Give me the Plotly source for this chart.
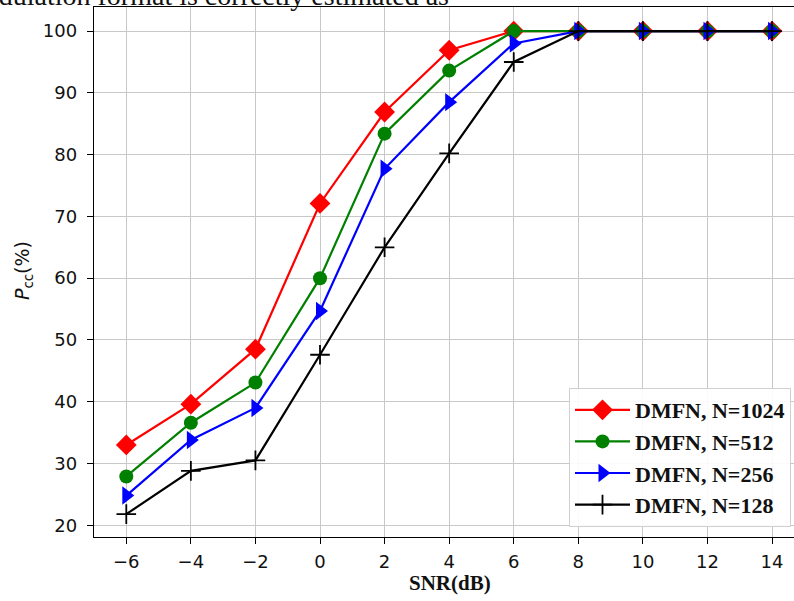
import plotly.graph_objects as go

snr = [-6, -4, -2, 0, 2, 4, 6, 8, 10, 12, 14]
p_1024 = [33.0, 39.6, 48.5, 72.1, 86.9, 96.9, 100, 100, 100, 100, 100]
p_512 = [27.9, 36.6, 43.1, 60.0, 83.4, 93.6, 100, 100, 100, 100, 100]
p_256 = [24.8, 33.8, 39.0, 54.7, 77.7, 88.5, 98.0, 100, 100, 100, 100]
p_128 = [21.8, 28.8, 30.5, 47.6, 65.0, 80.2, 95.0, 100, 100, 100, 100]
names = ["DMFN, N=1024", "DMFN, N=512", "DMFN, N=256", "DMFN, N=128"]
x_ticks = [-6, -4, -2, 0, 2, 4, 6, 8, 10, 12, 14]
y_ticks = [20, 30, 40, 50, 60, 70, 80, 90, 100]

L, T, W, H = 94, 7, 700, 530  # plot area in pixels

tick_font = dict(family="DejaVu Sans, sans-serif", size=18, color="#111")
serif = "Liberation Serif, Times New Roman, serif"

fig = go.Figure()
styles = [
    (p_1024, "red", dict(symbol="diamond", size=16, color="red")),
    (p_512, "green", dict(symbol="circle", size=14, color="green")),
    (p_256, "blue", dict(symbol="triangle-right", size=16, color="blue")),
    (p_128, "black", dict(symbol="cross-thin-open", size=14, color="black", line=dict(width=1.8, color="black"))),
]
for (vals, col, mk), nm in zip(styles, names):
    fig.add_trace(go.Scatter(x=snr, y=vals, mode="lines+markers", name="<b>" + nm + "</b>",
                             line=dict(color=col, width=2.2), marker=mk))

fig.update_layout(
    width=794, height=601,
    margin=dict(l=L, r=794 - L - W, t=T, b=601 - T - H),
    plot_bgcolor="white", paper_bgcolor="white",
    showlegend=True,
    legend=dict(x=(791 - L) / W, y=(T + H - 527) / H, xanchor="right", yanchor="bottom",
                font=dict(family=serif, size=22, color="#111"),
                bordercolor="#d0d0d0", borderwidth=1, bgcolor="rgba(255,255,255,0.9)",
                tracegroupgap=2, itemwidth=55),
    xaxis=dict(range=[-7, 14.68], tickvals=x_ticks,
               ticktext=[("\u2212" + str(-v)) if v < 0 else str(v) for v in x_ticks],
               showgrid=True, gridcolor="#c8c8c8", gridwidth=1,
               showline=True, linecolor="black", linewidth=1.4, mirror=True,
               ticks="outside", ticklen=6, tickwidth=1.4, tickcolor="black", tickfont=tick_font,
               ticklabelstandoff=2, zeroline=False),
    yaxis=dict(range=[18.1, 103.9], tickvals=y_ticks,
               showgrid=True, gridcolor="#c8c8c8", gridwidth=1,
               showline=True, linecolor="black", linewidth=1.4, mirror=True,
               ticks="outside", ticklen=6, tickwidth=1.4, tickcolor="black", tickfont=tick_font,
               ticklabelstandoff=6, zeroline=False),
)

# axis titles
fig.add_annotation(text="<b>SNR(dB)</b>", xref="paper", yref="paper",
                   x=(450 - L) / W, y=(T + H - 583) / H, xanchor="center", yanchor="middle",
                   showarrow=False, font=dict(family=serif, size=21, color="#111"))
fig.add_annotation(text="<i>P</i><sub>cc</sub>(%)", xref="paper", yref="paper",
                   x=(23 - L) / W, y=(T + H - 271) / H, xanchor="center", yanchor="middle",
                   textangle=-90, showarrow=False,
                   font=dict(family="DejaVu Sans, sans-serif", size=19, color="#111"))

# cropped caption text from the source page
fig.add_annotation(text="modulation format is correctly estimated as",
                   xref="paper", yref="paper", x=(451 - L) / W, y=1,
                   xanchor="right", yanchor="bottom", yshift=-6, showarrow=False,
                   font=dict(family=serif, size=28, color="#111"))

fig.write_html("out.html", config={"displayModeBar": False},
               post_script="document.body.style.margin='0';")
